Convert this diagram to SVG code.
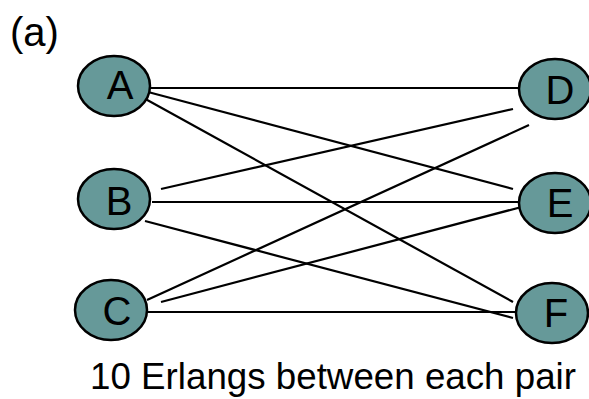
<svg xmlns="http://www.w3.org/2000/svg" width="589" height="399" viewBox="0 0 589 399">
<style>
.n{fill:#669999;stroke:#000;stroke-width:2.5}
.t{font-family:"Liberation Sans",Arial,sans-serif;fill:#000}
.l{font-size:40px;text-anchor:middle}
.e line{stroke:#000;stroke-width:2.2}
</style>
<rect width="589" height="399" fill="#fff"/>
<text class="t" x="10" y="46" font-size="40">(a)</text>
<g class="e" id="connectors">
<line x1="150" y1="88" x2="519" y2="88"/>
<line x1="148" y1="92" x2="513" y2="189"/>
<line x1="140" y1="96" x2="513" y2="302"/>
<line x1="161" y1="189" x2="513" y2="109"/>
<line x1="152" y1="202" x2="518" y2="202"/>
<line x1="145" y1="221" x2="513" y2="318"/>
<line x1="147" y1="300" x2="529" y2="125"/>
<line x1="161" y1="302" x2="529" y2="205"/>
<line x1="147" y1="312" x2="516" y2="312"/>
</g>
<g id="A"><ellipse class="n" cx="114" cy="86" rx="36" ry="30"/><text class="t l" x="120" y="99">A</text></g>
<g id="B"><ellipse class="n" cx="114" cy="199" rx="36" ry="30"/><text class="t l" x="119" y="215">B</text></g>
<g id="C"><ellipse class="n" cx="111" cy="310" rx="36" ry="30"/><text class="t l" x="117" y="325">C</text></g>
<g id="D"><ellipse class="n" cx="555" cy="89" rx="36" ry="30"/><text class="t l" x="560" y="104">D</text></g>
<g id="E"><ellipse class="n" cx="555" cy="203" rx="36" ry="30"/><text class="t l" x="560" y="217">E</text></g>
<g id="F"><ellipse class="n" cx="552" cy="313" rx="36" ry="30"/><text class="t l" x="556" y="327">F</text></g>
<text class="t" x="90" y="389" font-size="36.5" textLength="486" lengthAdjust="spacingAndGlyphs">10 Erlangs between each pair</text>
</svg>
